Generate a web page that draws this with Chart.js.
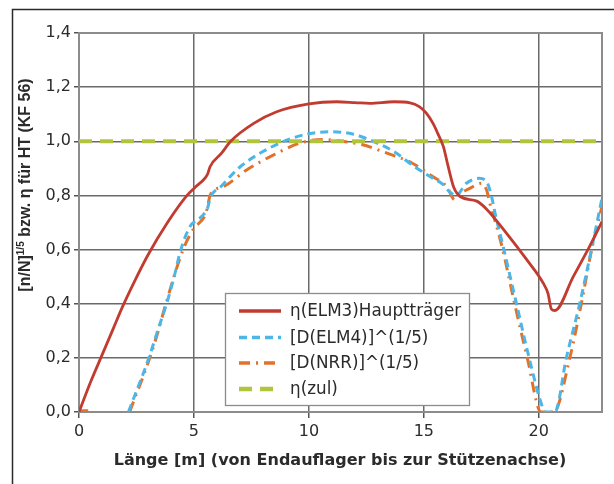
<!DOCTYPE html>
<html>
<head>
<meta charset="utf-8">
<script src="https://cdn.jsdelivr.net/npm/chart.js@4/dist/chart.umd.min.js"></script>
<style>
  html, body { margin: 0; padding: 0; background: #fff; }
  canvas { display: block; }
</style>
</head>
<body>
<canvas id="chart" width="614" height="484"></canvas>
<script>
// values (x in m, y dimensionless)
const xTicks = [0, 5, 10, 15, 20];
const yTicks = [0, 0.2, 0.4, 0.6, 0.8, 1.0, 1.2, 1.4];

const elm3X = [0, 0.5, 1.0, 1.5, 1.9, 2.4, 3.0, 3.85, 4.7, 5.0, 5.5, 5.6, 5.7, 6.2, 6.6, 7.6, 8.6, 10.0, 11.2, 12.0, 12.65, 13.7, 14.4, 14.8, 15.1, 15.4, 15.6, 15.85, 16.05, 16.3, 16.6, 17.3, 17.7, 18.6, 19.5, 20.2, 20.4, 20.55, 20.7, 21.5, 22.2, 22.75];
const elm3Y = [0, 0.11, 0.21, 0.31, 0.39, 0.48, 0.58, 0.7, 0.8, 0.826, 0.866, 0.88, 0.906, 0.956, 1.0, 1.066, 1.109, 1.138, 1.146, 1.143, 1.14, 1.146, 1.142, 1.128, 1.105, 1.066, 1.03, 0.98, 0.91, 0.83, 0.795, 0.779, 0.752, 0.66, 0.56, 0.475, 0.438, 0.38, 0.375, 0.5, 0.61, 0.703];

const elm4X = [2.15, 3.04, 3.42, 3.81, 4.14, 4.43, 4.83, 5.33, 5.6, 5.7, 6.2, 7.0, 8.0, 9.0, 10.0, 10.9, 11.9, 12.65, 13.7, 14.5, 15.3, 15.8, 16.1, 16.4, 16.85, 17.4, 17.75, 17.95, 18.1, 18.45, 19.03, 19.58, 20.2, 20.3, 20.7, 21.2, 21.78, 22.29, 22.75];
const elm4Y = [0, 0.2, 0.3, 0.4, 0.5, 0.6, 0.685, 0.722, 0.755, 0.789, 0.835, 0.905, 0.962, 1.003, 1.028, 1.035, 1.027, 1.005, 0.962, 0.912, 0.868, 0.843, 0.815, 0.8, 0.845, 0.863, 0.848, 0.795, 0.734, 0.611, 0.4, 0.2, 0.01, 0, 0, 0.2, 0.4, 0.6, 0.79];

const nrrX = [0, 0.4, 1.2, 2.2, 3.08, 3.45, 3.78, 4.53, 4.97, 5.5, 5.6, 5.7, 6.28, 7.29, 8.45, 9.6, 10.6, 11.6, 12.3, 13.4, 14.5, 15.4, 16.0, 16.35, 16.7, 17.0, 17.5, 17.73, 17.87, 18.05, 18.4, 18.95, 19.5, 20.1, 20.65, 21.35, 21.85, 22.3, 22.75];
const nrrY = [0.005, 0.005, null, 0, 0.2, 0.3, 0.4, 0.6, 0.675, 0.73, 0.76, 0.8, 0.832, 0.894, 0.949, 0.993, 1.007, 0.998, 0.988, 0.956, 0.919, 0.869, 0.832, 0.783, 0.812, 0.826, 0.845, 0.82, 0.771, 0.72, 0.611, 0.4, 0.2, 0, 0, 0.2, 0.4, 0.6, 0.76];

const zulX = [0, 22.75];
const zulY = [1.0, 1.0];

const seriesNames = ['\u03b7(ELM3)Hauptträger', '[D(ELM4)]^(1/5)', '[D(NRR)]^(1/5)', '\u03b7(zul)'];

const pts = (xs, ys) => xs.map((x, i) => ({ x: x, y: ys[i] }));

const styles = [
  { color: '#c23b30', width: 2.8, dash: [] },
  { color: '#4cb6e6', width: 3, dash: [8, 5] },
  { color: '#e2722a', width: 3, dash: [11, 6, 2, 6] },
  { color: '#b2c43e', width: 4, dash: [13, 8] }
];

const sans = "'DejaVu Sans', sans-serif";

const framePlugin = {
  id: 'frame',
  beforeDraw(chart) {
    const ctx = chart.ctx;
    ctx.save();
    ctx.fillStyle = '#fff';
    ctx.fillRect(0, 0, chart.width, chart.height);
    ctx.strokeStyle = '#2a2a2a';
    ctx.lineWidth = 1.5;
    ctx.strokeRect(12.5, 9.5, 700, 600);
    ctx.restore();
  },
  beforeDatasetsDraw(chart) {
    const a = chart.chartArea;
    const ctx = chart.ctx;
    ctx.save();
    ctx.strokeStyle = '#8c8c8c';
    ctx.lineWidth = 2;
    ctx.strokeRect(a.left, a.top, a.right - a.left, a.bottom - a.top);
    ctx.restore();
  },
  afterDraw(chart) {
    const ctx = chart.ctx;
    ctx.save();
    // x title
    ctx.fillStyle = '#2b2b2b';
    ctx.font = "bold 16px " + sans;
    ctx.textAlign = 'center';
    ctx.textBaseline = 'alphabetic';
    ctx.fillText('Länge [m] (von Endauflager bis zur Stützenachse)', 340, 465);

    // y title with superscript
    const mainFont = "bold 16px 'Liberation Sans', Arial, sans-serif";
    const supFont = "bold 10px 'Liberation Sans', Arial, sans-serif";
    const parts = [
      { t: '[n/N]', f: mainFont, dy: 0 },
      { t: '1/5', f: supFont, dy: -6 },
      { t: ' bzw. \u03b7 für HT (KF 56)', f: mainFont, dy: 0 }
    ];
    let total = 0;
    parts.forEach(p => { ctx.font = p.f; p.w = ctx.measureText(p.t).width; total += p.w; });
    ctx.translate(30, 185);
    ctx.rotate(-Math.PI / 2);
    ctx.textAlign = 'left';
    let x = -total / 2;
    parts.forEach(p => {
      ctx.font = p.f;
      ctx.fillText(p.t, x, p.dy);
      x += p.w;
    });
    ctx.restore();

    // legend box
    ctx.save();
    const bx = 225, by = 293, bw = 244, bh = 112;
    ctx.fillStyle = '#fff';
    ctx.fillRect(bx, by, bw, bh);
    ctx.strokeStyle = '#8c8c8c';
    ctx.lineWidth = 1.3;
    ctx.strokeRect(bx + 0.5, by + 0.5, bw, bh);
    const rows = [311, 337.5, 363, 389];
    ctx.font = "16.8px " + sans;
    ctx.textBaseline = 'middle';
    ctx.textAlign = 'left';
    seriesNames.forEach((name, i) => {
      const s = styles[i];
      ctx.beginPath();
      ctx.strokeStyle = s.color;
      ctx.lineWidth = s.width + 0.5;
      ctx.setLineDash(s.dash);
      ctx.moveTo(239, rows[i]);
      ctx.lineTo(281, rows[i]);
      ctx.stroke();
      ctx.setLineDash([]);
      ctx.fillStyle = '#2b2b2b';
      ctx.fillText(name, 290, rows[i] + 1);
    });
    ctx.restore();
  }
};

function dataset(i, xs, ys, ord) {
  return {
    label: seriesNames[i],
    data: pts(xs, ys),
    borderColor: styles[i].color,
    backgroundColor: styles[i].color,
    borderWidth: styles[i].width,
    borderDash: styles[i].dash,
    pointRadius: 0,
    fill: false,
    spanGaps: false,
    cubicInterpolationMode: 'monotone',
    order: ord
  };
}

new Chart(document.getElementById('chart').getContext('2d'), {
  type: 'line',
  data: {
    datasets: [
      dataset(0, elm3X, elm3Y, 0),
      dataset(1, elm4X, elm4Y, 2),
      dataset(2, nrrX, nrrY, 3),
      dataset(3, zulX, zulY, 1)
    ]
  },
  options: {
    responsive: false,
    animation: false,
    devicePixelRatio: 1,
    layout: { padding: { left: 0, right: 12, top: 33, bottom: 0 } },
    plugins: { legend: { display: false }, tooltip: { enabled: false } },
    scales: {
      x: {
        type: 'linear',
        min: 0,
        max: 22.75,
        afterFit: s => { s.height = 72; },
        afterBuildTicks: s => { s.ticks = xTicks.map(v => ({ value: v })); },
        grid: { color: '#6a6a6a', lineWidth: 1.5, tickLength: 6, tickColor: '#555' },
        border: { display: true, color: '#8c8c8c', width: 2 },
        ticks: { color: '#2b2b2b', font: { family: sans, size: 16 }, padding: 4, maxRotation: 0 }
      },
      y: {
        type: 'linear',
        min: 0,
        max: 1.4,
        afterFit: s => { s.width = 79; },
        afterBuildTicks: s => { s.ticks = yTicks.map(v => ({ value: v })); },
        grid: { color: '#6a6a6a', lineWidth: 1.5, tickLength: 5, tickColor: '#555' },
        border: { display: true, color: '#8c8c8c', width: 2 },
        ticks: {
          color: '#2b2b2b',
          font: { family: sans, size: 16 },
          padding: 3,
          callback: v => v.toFixed(1).replace('.', ',')
        }
      }
    }
  },
  plugins: [framePlugin]
});
</script>
</body>
</html>
